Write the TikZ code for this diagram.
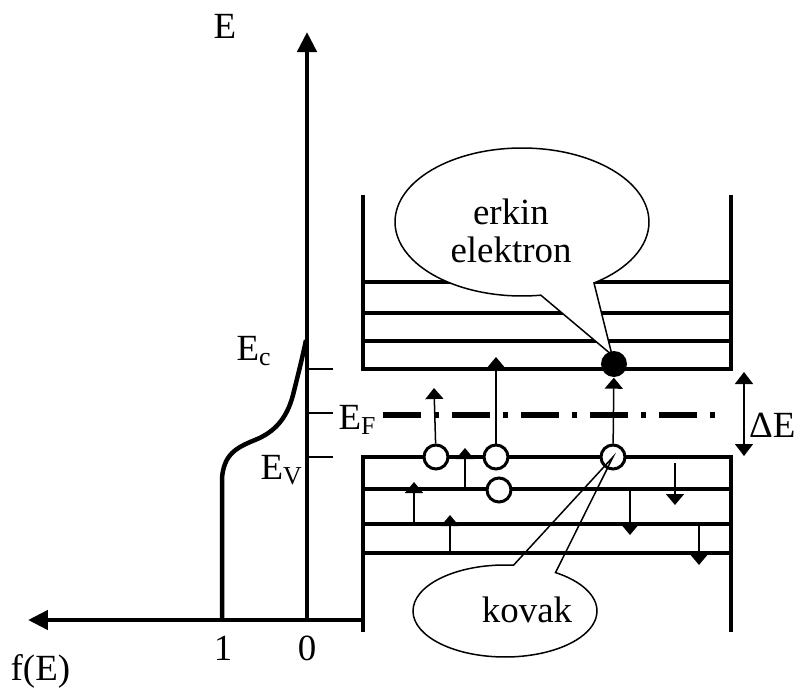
\documentclass[tikz,border=0pt]{standalone}
\usepackage{fontspec}
\setmainfont{Liberation Serif}
\usetikzlibrary{arrows.meta,shapes.callouts,shapes.geometric}

\begin{document}
\begin{tikzpicture}[
    x=0.1mm, y=-0.1mm,
    font=\fontsize{10.5pt}{11pt}\selectfont,
    axis/.style={line width=0.45mm, line join=round},
    band/.style={line width=0.35mm},
    tick/.style={line width=0.25mm},
    lbl/.style={inner sep=0pt},
    axarrow/.style={-{Triangle[width=1.9mm,length=2mm]}, axis},
    up/.style={-{Triangle[width=1.8mm,length=1.1mm]}, line width=0.15mm},
    dbl/.style={{Triangle[width=1.8mm,length=1.2mm]}-{Triangle[width=1.8mm,length=1.2mm]}, line width=0.15mm},
    hole/.style={circle, draw, line width=0.3mm, fill=white, minimum size=2.4mm, inner sep=0pt},
    elec/.style={circle, fill=black, minimum size=2.6mm, inner sep=0pt},
    bubble/.style={ellipse callout, draw, line width=0.15mm, inner sep=0pt},
]
    \useasboundingbox (0,0) rectangle (798,689);

    % Axes and distribution curve
    \draw[axarrow] (307,620) -- (307,32);
    \draw[axarrow] (363,620) -- (28,620);
    \draw[axis] (222,620) -- (222,478) .. controls (224,455) and (235,448) .. (255,440)
        .. controls (275,432) and (287,418) .. (293,395)
        .. controls (298,375) and (303,355) .. (306,340);
    \foreach \y in {369,413,457}
        \draw[tick] (307,\y) -- (333,\y);

    \node[lbl, anchor=base west] (E) at (213,38) {E};
    \node[lbl, anchor=base west] (Ec) at (236,360) {E\textsubscript{c}};
    \node[lbl, anchor=base west] (EF) at (338,429) {E\textsubscript{F}};
    \node[lbl, anchor=base west] (EV) at (260,479) {E\textsubscript{V}};
    \node[lbl, anchor=base] (one) at (223,660) {1};
    \node[lbl, anchor=base] (zero) at (307,660) {0};
    \node[lbl, anchor=base west] (fE) at (10,680) {f(E)};

    % Conduction band
    \draw[band] (363,195) -- (363,369) -- (731,369) -- (731,195);
    \foreach \y in {282,313,341}
        \draw[band] (363,\y) -- (731,\y);

    % Valence band
    \draw[band] (363,632) -- (363,457) -- (731,457) -- (731,632);
    \foreach \y in {489,524,553}
        \draw[band] (363,\y) -- (731,\y);

    % Fermi level
    \draw[line width=0.6mm, dash pattern=on 3.8mm off 1.3mm on 0.5mm off 1.3mm] (383,415) -- (720,415);

    % Gap
    \coordinate (gapT) at (744,372);
    \coordinate (gapB) at (744,456);
    \draw[dbl] (gapB) -- (gapT);
    \node[lbl, anchor=base east] (dE) at (796,437) {ΔE};

    % Holes and electron
    \node[hole] (h1) at (436,457) {};
    \node[hole] (h2) at (496,457) {};
    \node[hole] (h3) at (613,457) {};
    \node[hole] (h4) at (499,490) {};

    % Transitions
    \coordinate (t1) at (434,388);
    \coordinate (t2) at (496,357);
    \draw[up] (h1) -- (t1);
    \draw[up] (h2) -- (t2);
    \coordinate (a1) at (465,489); \coordinate (b1) at (465,448);
    \coordinate (a2) at (414,524); \coordinate (b2) at (414,482);
    \coordinate (a3) at (450,553); \coordinate (b3) at (450,515);
    \coordinate (a4) at (675,463); \coordinate (b4) at (675,505);
    \coordinate (a5) at (630,489); \coordinate (b5) at (630,535);
    \coordinate (a6) at (699,525); \coordinate (b6) at (699,565);
    \foreach \i in {1,...,6}
        \draw[up] (a\i) -- (b\i);

    % Callouts
    \node[bubble, fill=white, minimum width=25.4mm, minimum height=14.8mm,
          callout pointer arc=26, callout absolute pointer={(612,355)}] (erkin) at (522,222) {};
    \node[align=center] (erkinT) at (511,231) {erkin\\elektron};

    \node[elec] (el) at (614,364) {};
    \draw[up] (h3) -- (el);

    \node[bubble, minimum width=18.4mm, minimum height=9.2mm,
          callout pointer arc=28, callout absolute pointer={(h3.center)}] (kovak) at (505,611) {};
    \node (kovakT) at (527,610) {kovak};
\end{tikzpicture}
\end{document}
